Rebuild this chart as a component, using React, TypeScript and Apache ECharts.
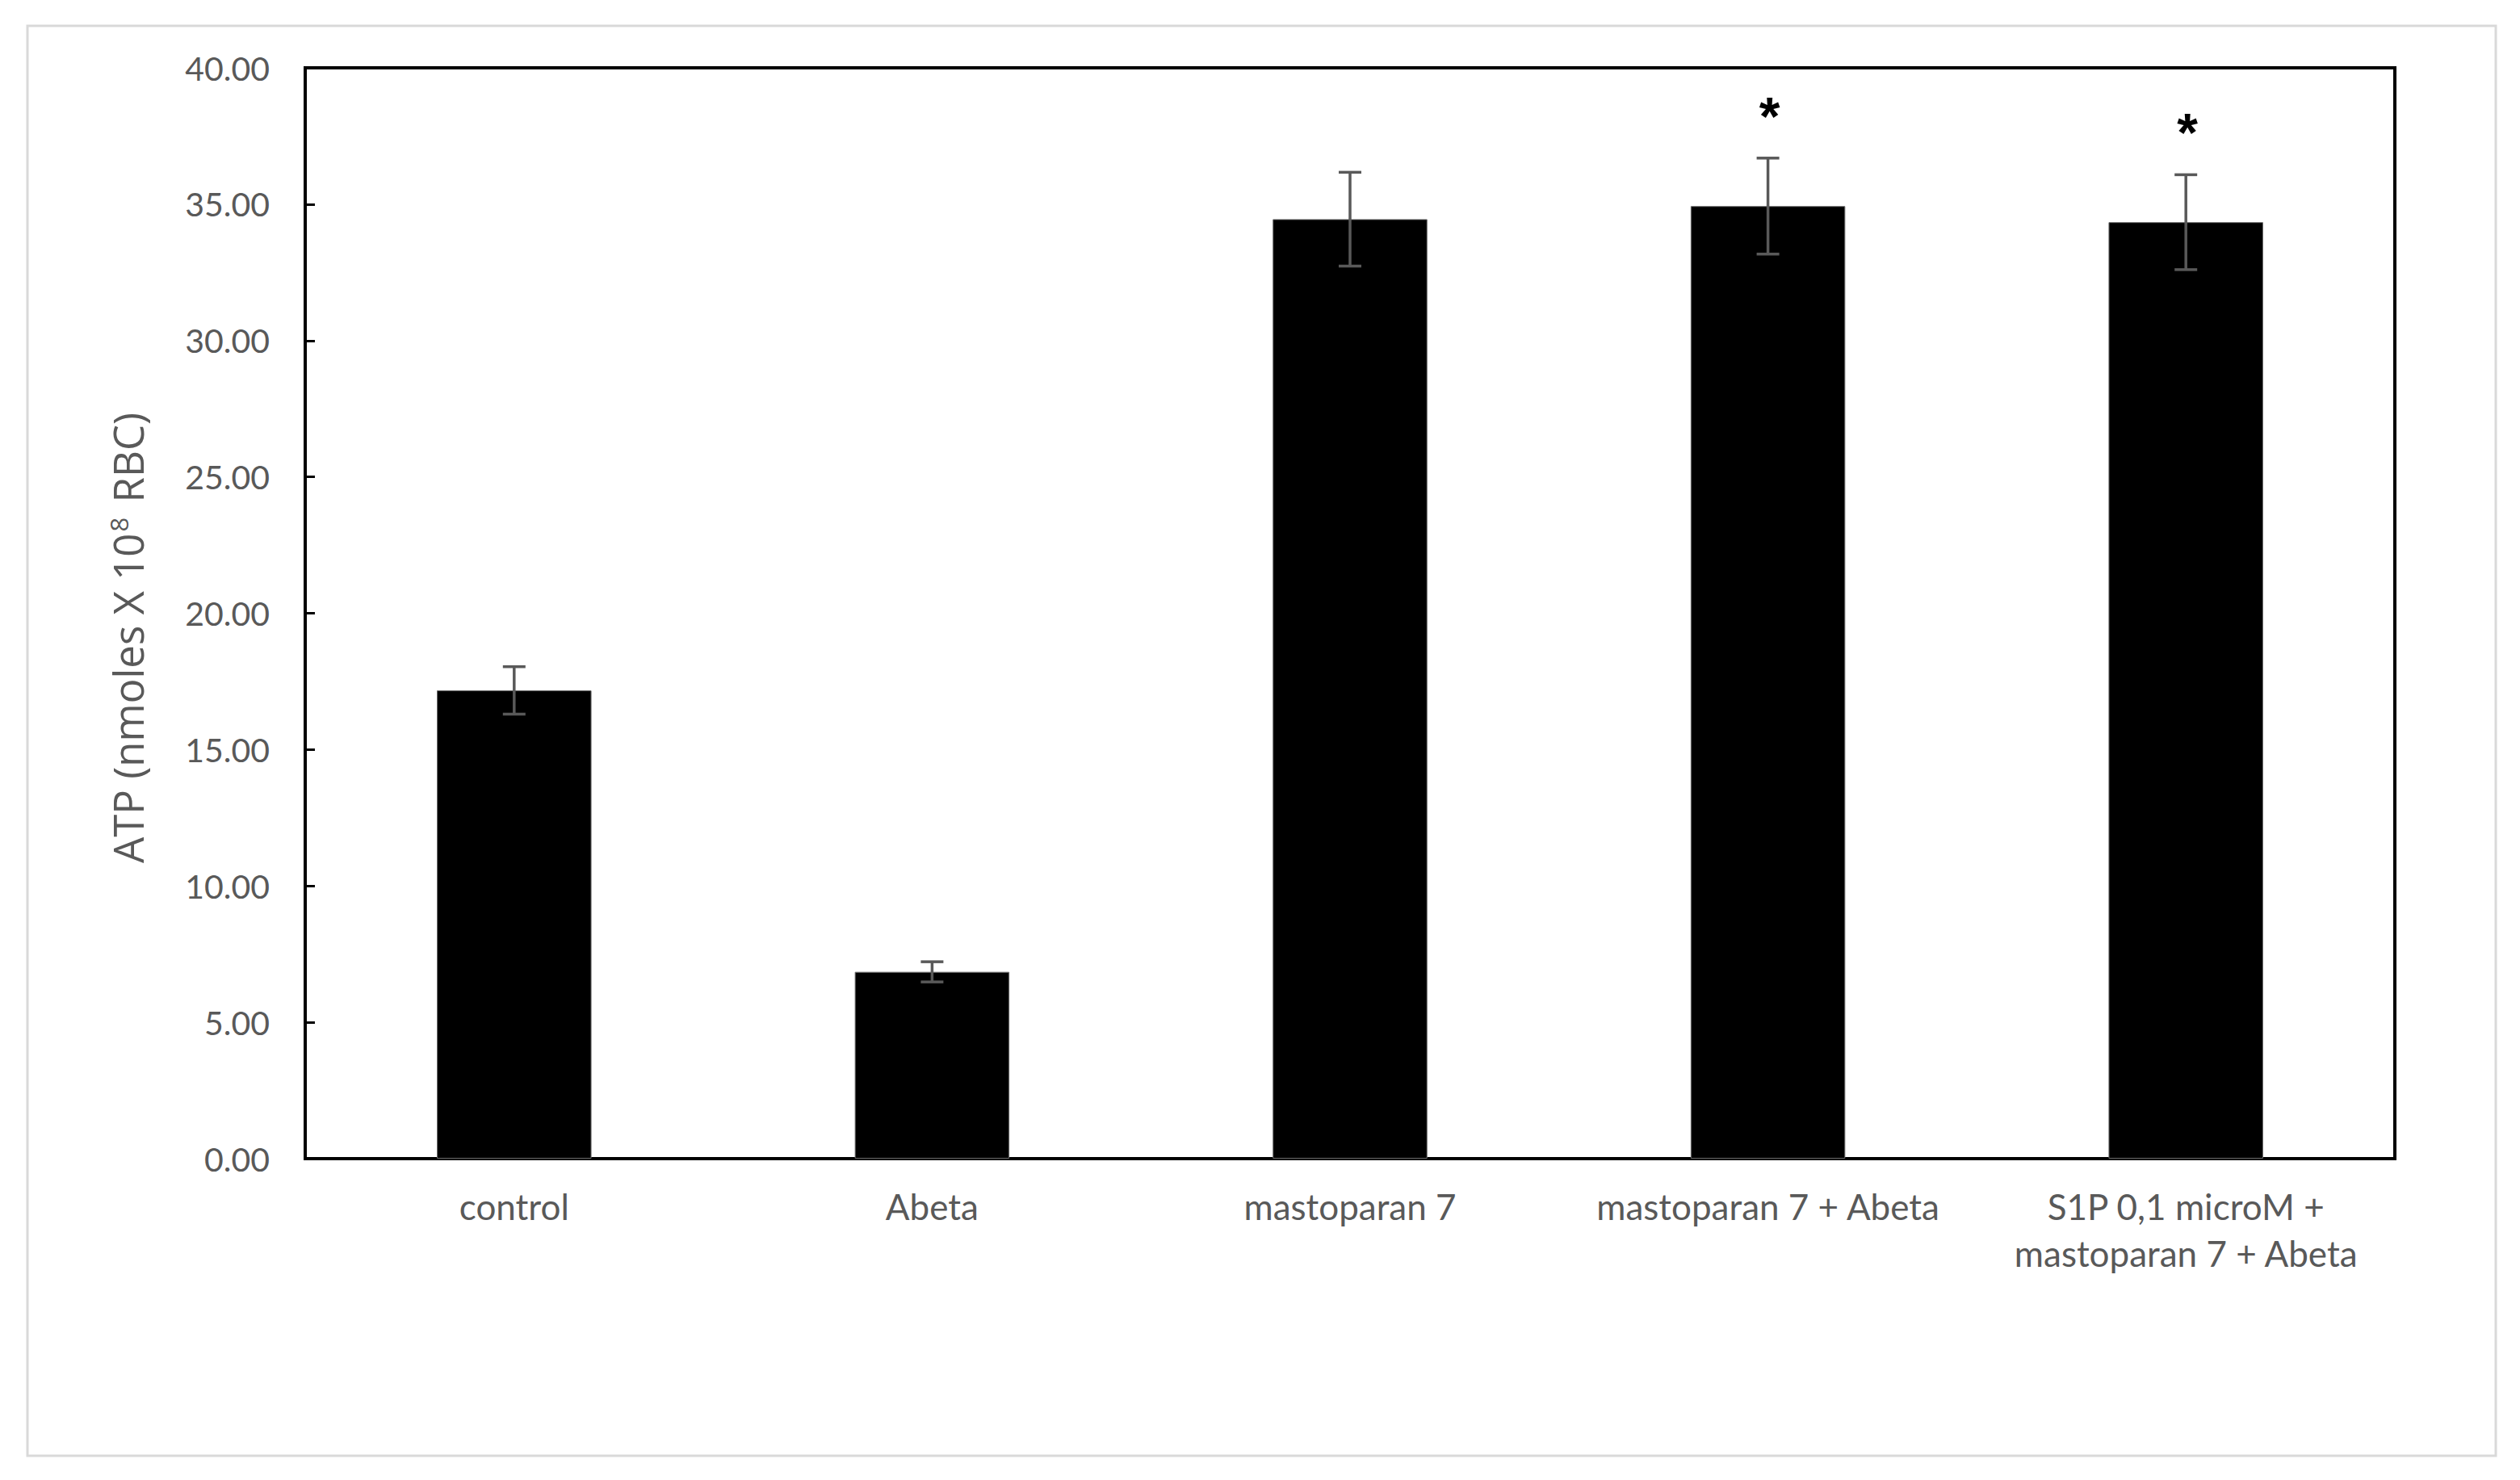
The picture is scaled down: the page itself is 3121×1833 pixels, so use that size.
import React, { useEffect, useRef } from "react";
import * as echarts from "echarts";

// ATP content of red blood cells per treatment (mean ± SEM)
const categories = [
  "control",
  "Abeta",
  "mastoparan 7",
  "mastoparan 7 + Abeta",
  "S1P 0,1 microM +\nmastoparan 7 + Abeta",
];
const atpMeans = [17.17, 6.85, 34.45, 34.93, 34.34];
const atpErrors = [0.87, 0.37, 1.72, 1.76, 1.74];
const significant = [false, false, false, true, true];
const yTicks = { min: 0, max: 40, interval: 5 };

const TEXT_GRAY = "#595959";

export default function App() {
  const ref = useRef<HTMLDivElement>(null);

  useEffect(() => {
    document.body.style.margin = "0";
    const chart = echarts.init(ref.current!, null, { renderer: "svg" });

    const errorData = atpMeans.map((m, i) => [i, m - atpErrors[i], m + atpErrors[i]]);
    const starData = atpMeans
      .map((m, i) => [i, m + atpErrors[i]])
      .filter((_, i) => significant[i]);

    chart.setOption({
      animation: false,
      backgroundColor: "#ffffff",
      grid: {
        left: 378,
        top: 84,
        right: 155,
        bottom: 398,
        show: true,
        borderColor: "#000000",
        borderWidth: 4,
        backgroundColor: "transparent",
      },
      graphic: [
        {
          type: "rect",
          shape: { x: 34, y: 32, width: 3057, height: 1771 },
          style: { fill: "none", stroke: "#d9d9d9", lineWidth: 3 },
          silent: true,
        },
        {
          type: "text",
          x: 158,
          y: 790,
          rotation: Math.PI / 2,
          style: {
            text: "{a|ATP (nmoles X 10}{s|8}{a| RBC)}",
            align: "center",
            verticalAlign: "middle",
            rich: {
              a: { fontSize: 51, fontFamily: "Open Sans", fill: TEXT_GRAY, color: TEXT_GRAY },
              s: {
                fontSize: 31,
                fontFamily: "Open Sans",
                fill: TEXT_GRAY,
                color: TEXT_GRAY,
                verticalAlign: "top",
                padding: [0, 5, 22, 2],
              },
            },
          },
        },
      ],
      xAxis: {
        type: "category",
        data: categories,
        axisLine: { lineStyle: { color: "#000000", width: 4 } },
        axisTick: { show: false },
        axisLabel: {
          interval: 0,
          color: TEXT_GRAY,
          fontSize: 44,
          lineHeight: 58,
          fontFamily: "Lato",
          margin: 30,
        },
        splitLine: { show: false },
      },
      yAxis: {
        type: "value",
        min: yTicks.min,
        max: yTicks.max,
        interval: yTicks.interval,
        axisLine: { show: true, lineStyle: { color: "#000000", width: 4 } },
        axisTick: { show: true, inside: true, length: 12, lineStyle: { color: "#000000", width: 3 } },
        axisLabel: {
          color: TEXT_GRAY,
          fontSize: 41,
          fontFamily: "Lato",
          margin: 44,
          formatter: (v: number) => v.toFixed(2),
        },
        splitLine: { show: false },
      },
      series: [
        {
          type: "bar",
          data: atpMeans,
          barWidth: "37%",
          itemStyle: { color: "#000000", borderColor: "#6b6b6b", borderWidth: 1 },
        },
        {
          type: "custom",
          data: errorData,
          z: 10,
          renderItem: (params: any, api: any) => {
            const lo = api.coord([api.value(0), api.value(1)]);
            const hi = api.coord([api.value(0), api.value(2)]);
            const half = 14;
            const style = { stroke: TEXT_GRAY, lineWidth: 3.5 };
            return {
              type: "group",
              children: [
                { type: "line", shape: { x1: hi[0], y1: hi[1], x2: lo[0], y2: lo[1] }, style },
                { type: "line", shape: { x1: hi[0] - half, y1: hi[1], x2: hi[0] + half, y2: hi[1] }, style },
                { type: "line", shape: { x1: lo[0] - half, y1: lo[1], x2: lo[0] + half, y2: lo[1] }, style },
              ],
            };
          },
        },
        {
          type: "custom",
          data: starData,
          z: 11,
          renderItem: (params: any, api: any) => {
            const p = api.coord([api.value(0), api.value(1)]);
            return {
              type: "text",
              x: p[0] + 2,
              y: p[1] - 52,
              style: {
                text: "*",
                fontSize: 66,
                fontWeight: "bold",
                fontFamily: "Liberation Sans",
                fill: "#000000",
                align: "center",
                verticalAlign: "middle",
              },
            };
          },
        },
      ],
    });

    return () => chart.dispose();
  }, []);

  return <div ref={ref} style={{ width: 3121, height: 1833, position: "absolute", left: 0, top: 0 }} />;
}
